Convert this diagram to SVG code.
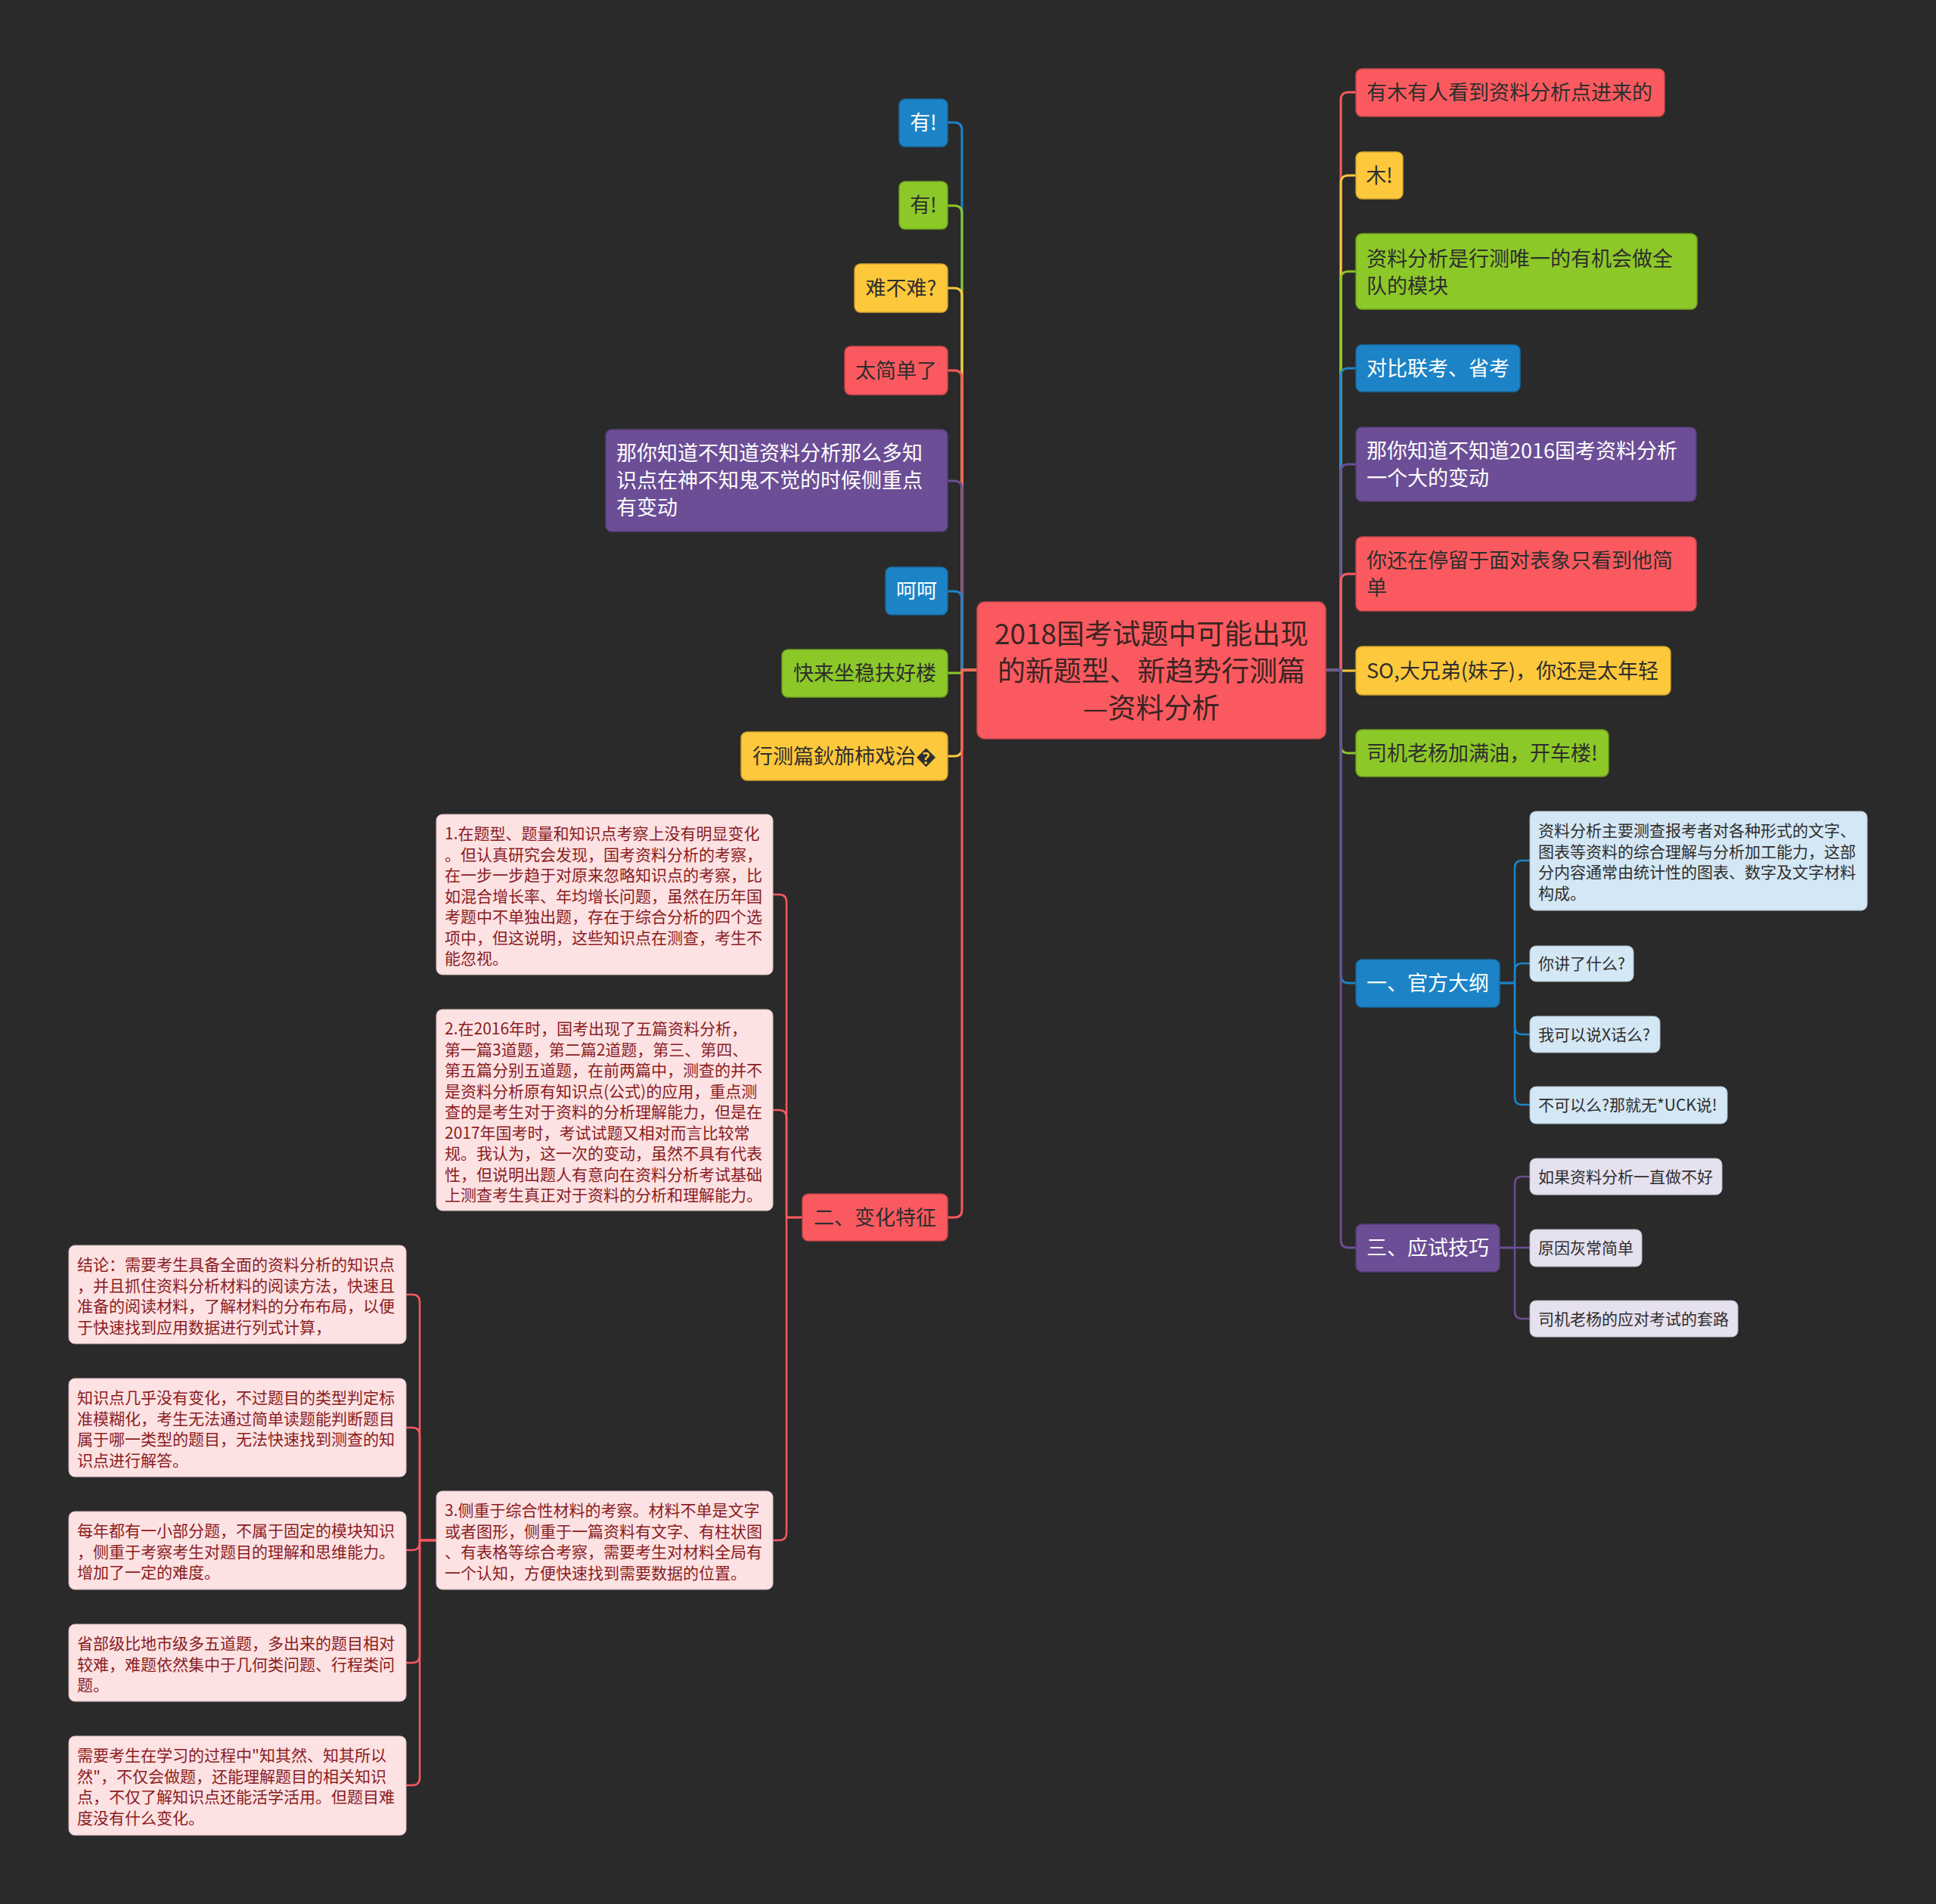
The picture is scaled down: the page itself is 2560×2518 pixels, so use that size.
<svg xmlns="http://www.w3.org/2000/svg" width="2560" height="2518" viewBox="0 0 2560 2518">
<style>
text{font-family:"Noto Sans CJK SC","Liberation Sans",sans-serif;}
.t27{font-size:27px;}
.t21{font-size:21px;}
.mid{text-anchor:middle;}
.w{fill:#ffffff;}
.d{fill:#2e2e2e;}
.dr{fill:#8a1c1f;}
.blue{fill:#1c84c6;stroke:#166a9f;stroke-width:1.5;}
.green{fill:#8cc828;stroke:#6fa01e;stroke-width:1.5;}
.yellow{fill:#fdc83c;stroke:#d2a42c;stroke-width:1.5;}
.red{fill:#fa5a5f;stroke:#c9474b;stroke-width:1.5;}
.purple{fill:#6c4e96;stroke:#563e78;stroke-width:1.5;}
.pink{fill:#fde2e3;stroke:#d8bcbd;stroke-width:1;}
.lblue{fill:#d4e7f4;stroke:#aebfcb;stroke-width:1;}
.lav{fill:#e6e1ef;stroke:#bdb8c6;stroke-width:1;}
.c{fill:none;stroke-width:3;stroke-linejoin:round;}
.cs{fill:none;stroke-width:2.5;stroke-linejoin:round;}
.cb{stroke:#1c84c6;}
.cg{stroke:#8cc828;}
.cy{stroke:#fdc83c;}
.cr{stroke:#fa5a5f;}
.cp{stroke:#6c4e96;}
</style>
<rect x="0" y="0" width="2560" height="2518" fill="#2a2a2a"/>

<g id="connectors">
  <path class="c cb" d="M1292 886 H1272 V172 Q1272 162 1262 162 H1253"/>
  <path class="c cg" d="M1292 886 H1272 V282 Q1272 272 1262 272 H1253"/>
  <path class="c cy" d="M1292 886 H1272 V391 Q1272 381 1262 381 H1253"/>
  <path class="c cr" d="M1292 886 H1272 V500 Q1272 490 1262 490 H1253"/>
  <path class="c cp" d="M1292 886 H1272 V646 Q1272 636 1262 636 H1253"/>
  <path class="c cb" d="M1292 886 H1272 V792 Q1272 782 1262 782 H1253"/>
  <path class="c cg" d="M1292 886 H1272 V890 H1253"/>
  <path class="c cy" d="M1292 886 H1272 V990 Q1272 1000 1262 1000 H1253"/>
  <path class="c cr" d="M1292 886 H1272 V1600 Q1272 1610 1262 1610 H1253"/>

  <path class="c cr" d="M1753 886 H1773 V132 Q1773 122 1783 122 H1793"/>
  <path class="c cy" d="M1753 886 H1773 V242 Q1773 232 1783 232 H1793"/>
  <path class="c cg" d="M1753 886 H1773 V369 Q1773 359 1783 359 H1793"/>
  <path class="c cb" d="M1753 886 H1773 V497 Q1773 487 1783 487 H1793"/>
  <path class="c cp" d="M1753 886 H1773 V624 Q1773 614 1783 614 H1793"/>
  <path class="c cr" d="M1753 886 H1773 V769 Q1773 759 1783 759 H1793"/>
  <path class="c cy" d="M1753 886 H1773 V887 H1793"/>
  <path class="c cg" d="M1753 886 H1773 V986 Q1773 996 1783 996 H1793"/>
  <path class="c cb" d="M1753 886 H1773 V1290 Q1773 1300 1783 1300 H1793"/>
  <path class="c cp" d="M1753 886 H1773 V1640 Q1773 1650 1783 1650 H1793"/>

  <path class="cs cb" d="M1983 1300 H2003 V1148 Q2003 1138 2013 1138 H2023"/>
  <path class="cs cb" d="M1983 1300 H2003 V1284 Q2003 1274 2013 1274 H2023"/>
  <path class="cs cb" d="M1983 1300 H2003 V1358 Q2003 1368 2013 1368 H2023"/>
  <path class="cs cb" d="M1983 1300 H2003 V1451 Q2003 1461 2013 1461 H2023"/>

  <path class="cs cp" d="M1983 1650 H2003 V1566 Q2003 1556 2013 1556 H2023"/>
  <path class="cs cp" d="M1983 1650 H2023"/>
  <path class="cs cp" d="M1983 1650 H2003 V1734 Q2003 1744 2013 1744 H2023"/>

  <path class="cs cr" d="M1061 1610 H1040 V1193 Q1040 1183 1030 1183 H1022"/>
  <path class="cs cr" d="M1061 1610 H1040 V1478 Q1040 1468 1030 1468 H1022"/>
  <path class="cs cr" d="M1061 1610 H1040 V2027 Q1040 2037 1030 2037 H1022"/>

  <path class="cs cr" d="M577 2037 H555 V1722 Q555 1712 545 1712 H537"/>
  <path class="cs cr" d="M577 2037 H555 V1898 Q555 1888 545 1888 H537"/>
  <path class="cs cr" d="M577 2037 H555 V2040 Q555 2050 545 2050 H537"/>
  <path class="cs cr" d="M577 2037 H555 V2189 Q555 2199 545 2199 H537"/>
  <path class="cs cr" d="M577 2037 H555 V2351 Q555 2361 545 2361 H537"/>
</g>

<g id="center">
  <rect class="red" x="1292" y="796" width="461" height="181" rx="10"/>
  <text x="1522.5" y="852" class="mid" font-size="37" fill="#3b2424">2018国考试题中可能出现</text>
  <text x="1522.5" y="901" class="mid" font-size="37" fill="#3b2424">的新题型、新趋势行测篇</text>
  <text x="1522.5" y="950" class="mid" font-size="37" fill="#3b2424">—资料分析</text>
</g>

<g id="l1"><rect class="blue" x="1189" y="131" width="64" height="63" rx="8"/><text x="1221" y="172" class="t27 mid w">有!</text></g>
<g id="l2"><rect class="green" x="1189" y="240" width="64" height="63" rx="8"/><text x="1221" y="281" class="t27 mid d">有!</text></g>
<g id="l3"><rect class="yellow" x="1130" y="349" width="123" height="64" rx="8"/><text x="1191.5" y="391" class="t27 mid d">难不难?</text></g>
<g id="l4"><rect class="red" x="1117" y="458" width="136" height="64" rx="8"/><text x="1185" y="500" class="t27 mid d">太简单了</text></g>
<g id="l5"><rect class="purple" x="801" y="568" width="452" height="135" rx="8"/>
  <text class="t27 w"><tspan x="815" y="609">那你知道不知道资料分析那么多知</tspan><tspan x="815" y="645">识点在神不知鬼不觉的时候侧重点</tspan><tspan x="815" y="681">有变动</tspan></text></g>
<g id="l6"><rect class="blue" x="1171" y="750" width="82" height="63" rx="8"/><text x="1212" y="791" class="t27 mid w">呵呵</text></g>
<g id="l7"><rect class="green" x="1034" y="859" width="219" height="63" rx="8"/><text x="1143.5" y="900" class="t27 mid d">快来坐稳扶好楼</text></g>
<g id="l8"><rect class="yellow" x="980" y="968" width="273" height="64" rx="8"/><text x="1116.5" y="1010" class="t27 mid d">行测篇鈥斾柿戏治�</text></g>
<g id="l9"><rect class="red" x="1061" y="1579" width="192" height="62" rx="8"/><text x="1157" y="1620" class="t27 mid d">二、变化特征</text></g>

<g id="r1"><rect class="red" x="1793" y="91" width="408" height="63" rx="8"/><text x="1807" y="132" class="t27 d">有木有人看到资料分析点进来的</text></g>
<g id="r2"><rect class="yellow" x="1793" y="201" width="62" height="62" rx="8"/><text x="1824" y="242" class="t27 mid d">木!</text></g>
<g id="r3"><rect class="green" x="1793" y="309" width="451" height="100" rx="8"/>
  <text class="t27 d"><tspan x="1807" y="352">资料分析是行测唯一的有机会做全</tspan><tspan x="1807" y="388">队的模块</tspan></text></g>
<g id="r4"><rect class="blue" x="1793" y="456" width="217" height="62" rx="8"/><text x="1901.5" y="497" class="t27 mid w">对比联考、省考</text></g>
<g id="r5"><rect class="purple" x="1793" y="565" width="450" height="98" rx="8"/>
  <text class="t27 w"><tspan x="1807" y="606">那你知道不知道2016国考资料分析</tspan><tspan x="1807" y="642">一个大的变动</tspan></text></g>
<g id="r6"><rect class="red" x="1793" y="710" width="450" height="98" rx="8"/>
  <text class="t27 d"><tspan x="1807" y="751">你还在停留于面对表象只看到他简</tspan><tspan x="1807" y="787">单</tspan></text></g>
<g id="r7"><rect class="yellow" x="1793" y="855" width="416" height="64" rx="8"/><text x="1807" y="897" class="t27 d">SO,大兄弟(妹子)，你还是太年轻</text></g>
<g id="r8"><rect class="green" x="1793" y="965" width="334" height="62" rx="8"/><text x="1807" y="1006" class="t27 d">司机老杨加满油，开车楼!</text></g>
<g id="r9"><rect class="blue" x="1793" y="1269" width="190" height="63" rx="8"/><text x="1888" y="1310" class="t27 mid w">一、官方大纲</text></g>
<g id="r10"><rect class="purple" x="1793" y="1619" width="190" height="63" rx="8"/><text x="1888" y="1660" class="t27 mid w">三、应试技巧</text></g>

<g id="s1"><rect class="lblue" x="2023" y="1073" width="446" height="131" rx="8"/>
  <text class="t21 d"><tspan x="2034" y="1106">资料分析主要测查报考者对各种形式的文字、</tspan><tspan x="2034" y="1133.5">图表等资料的综合理解与分析加工能力，这部</tspan><tspan x="2034" y="1161">分内容通常由统计性的图表、数字及文字材料</tspan><tspan x="2034" y="1188.5">构成。</tspan></text></g>
<g id="s2"><rect class="lblue" x="2023" y="1251" width="137" height="47" rx="8"/><text x="2034" y="1282" class="t21 d">你讲了什么?</text></g>
<g id="s3"><rect class="lblue" x="2023" y="1344" width="172" height="48" rx="8"/><text x="2034" y="1375.5" class="t21 d">我可以说X话么?</text></g>
<g id="s4"><rect class="lblue" x="2023" y="1437" width="261" height="49" rx="8"/><text x="2034" y="1469" class="t21 d">不可以么?那就无*UCK说!</text></g>

<g id="s5"><rect class="lav" x="2023" y="1532" width="254" height="48" rx="8"/><text x="2034" y="1563.5" class="t21 d">如果资料分析一直做不好</text></g>
<g id="s6"><rect class="lav" x="2023" y="1626" width="148" height="49" rx="8"/><text x="2034" y="1658" class="t21 d">原因灰常简单</text></g>
<g id="s7"><rect class="lav" x="2023" y="1720" width="275" height="48" rx="8"/><text x="2034" y="1751.5" class="t21 d">司机老杨的应对考试的套路</text></g>

<g id="d1"><rect class="pink" x="577" y="1077" width="445" height="212" rx="8"/>
  <text class="t21 dr"><tspan x="588" y="1110">1.在题型、题量和知识点考察上没有明显变化</tspan><tspan x="588" y="1137.5">。但认真研究会发现，国考资料分析的考察，</tspan><tspan x="588" y="1165">在一步一步趋于对原来忽略知识点的考察，比</tspan><tspan x="588" y="1192.5">如混合增长率、年均增长问题，虽然在历年国</tspan><tspan x="588" y="1220">考题中不单独出题，存在于综合分析的四个选</tspan><tspan x="588" y="1247.5">项中，但这说明，这些知识点在测查，考生不</tspan><tspan x="588" y="1275">能忽视。</tspan></text></g>
<g id="d2"><rect class="pink" x="577" y="1335" width="445" height="266" rx="8"/>
  <text class="t21 dr"><tspan x="588" y="1368">2.在2016年时，国考出现了五篇资料分析，</tspan><tspan x="588" y="1395.5">第一篇3道题，第二篇2道题，第三、第四、</tspan><tspan x="588" y="1423">第五篇分别五道题，在前两篇中，测查的并不</tspan><tspan x="588" y="1450.5">是资料分析原有知识点(公式)的应用，重点测</tspan><tspan x="588" y="1478">查的是考生对于资料的分析理解能力，但是在</tspan><tspan x="588" y="1505.5">2017年国考时，考试试题又相对而言比较常</tspan><tspan x="588" y="1533">规。我认为，这一次的变动，虽然不具有代表</tspan><tspan x="588" y="1560.5">性，但说明出题人有意向在资料分析考试基础</tspan><tspan x="588" y="1588">上测查考生真正对于资料的分析和理解能力。</tspan></text></g>
<g id="d3"><rect class="pink" x="577" y="1972" width="445" height="130" rx="8"/>
  <text class="t21 dr"><tspan x="588" y="2005">3.侧重于综合性材料的考察。材料不单是文字</tspan><tspan x="588" y="2032.5">或者图形，侧重于一篇资料有文字、有柱状图</tspan><tspan x="588" y="2060">、有表格等综合考察，需要考生对材料全局有</tspan><tspan x="588" y="2087.5">一个认知，方便快速找到需要数据的位置。</tspan></text></g>

<g id="c1"><rect class="pink" x="91" y="1647" width="446" height="130" rx="8"/>
  <text class="t21 dr"><tspan x="102" y="1680">结论：需要考生具备全面的资料分析的知识点</tspan><tspan x="102" y="1707.5">，并且抓住资料分析材料的阅读方法，快速且</tspan><tspan x="102" y="1735">准备的阅读材料，了解材料的分布布局，以便</tspan><tspan x="102" y="1762.5">于快速找到应用数据进行列式计算，</tspan></text></g>
<g id="c2"><rect class="pink" x="91" y="1823" width="446" height="130" rx="8"/>
  <text class="t21 dr"><tspan x="102" y="1856">知识点几乎没有变化，不过题目的类型判定标</tspan><tspan x="102" y="1883.5">准模糊化，考生无法通过简单读题能判断题目</tspan><tspan x="102" y="1911">属于哪一类型的题目，无法快速找到测查的知</tspan><tspan x="102" y="1938.5">识点进行解答。</tspan></text></g>
<g id="c3"><rect class="pink" x="91" y="1999" width="446" height="103" rx="8"/>
  <text class="t21 dr"><tspan x="102" y="2032">每年都有一小部分题，不属于固定的模块知识</tspan><tspan x="102" y="2059.5">，侧重于考察考生对题目的理解和思维能力。</tspan><tspan x="102" y="2087">增加了一定的难度。</tspan></text></g>
<g id="c4"><rect class="pink" x="91" y="2148" width="446" height="102" rx="8"/>
  <text class="t21 dr"><tspan x="102" y="2181">省部级比地市级多五道题，多出来的题目相对</tspan><tspan x="102" y="2208.5">较难，难题依然集中于几何类问题、行程类问</tspan><tspan x="102" y="2236">题。</tspan></text></g>
<g id="c5"><rect class="pink" x="91" y="2296" width="446" height="131" rx="8"/>
  <text class="t21 dr"><tspan x="102" y="2329">需要考生在学习的过程中"知其然、知其所以</tspan><tspan x="102" y="2356.5">然"，不仅会做题，还能理解题目的相关知识</tspan><tspan x="102" y="2384">点，不仅了解知识点还能活学活用。但题目难</tspan><tspan x="102" y="2411.5">度没有什么变化。</tspan></text></g>
</svg>
